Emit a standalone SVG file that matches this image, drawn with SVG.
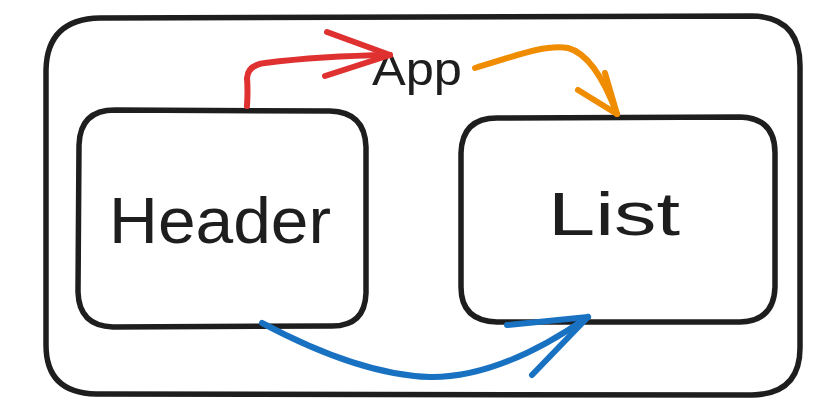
<svg xmlns="http://www.w3.org/2000/svg" width="821" height="408" viewBox="0 0 821 408">
<defs>
<style>
.box{fill:none;stroke:#1e1e1e;stroke-width:5.5;stroke-linecap:round;stroke-linejoin:round}
.arr{fill:none;stroke-width:6;stroke-linecap:round;stroke-linejoin:round}
.lbl{font-family:"Liberation Sans",Arial,sans-serif;fill:#1e1e1e;text-anchor:middle}
</style>
</defs>
<rect width="821" height="408" fill="#ffffff"/>
<g id="app">
<path class="box" d="M100,18 L752,16 Q800,17 800,66 L800,348 Q800,394 752,395 L96,394 Q46,393 46,345 L46,70 Q47,19 100,18 Z"/>
<text class="lbl" x="417" y="85" font-size="46" textLength="90" lengthAdjust="spacingAndGlyphs">App</text>
</g>
<g id="header">
<path class="box" d="M115,110 L330,111 Q365,112 366,147 L366,293 Q365,327 330,326 L113,327 Q79,326 78,292 L79,145 Q80,110 115,110 Z"/>
<text class="lbl" x="220" y="243" font-size="64" textLength="222" lengthAdjust="spacingAndGlyphs">Header</text>
</g>
<g id="list">
<path class="box" d="M497,118 L740,117 Q775,118 775,153 L775,287 Q774,321 740,322 L497,322 Q461,321 461,287 L461,153 Q462,118 497,118 Z"/>
<text class="lbl" x="614" y="235" font-size="62" textLength="132" lengthAdjust="spacingAndGlyphs">List</text>
</g>
<g id="connectors">
<g stroke="#e03131" class="arr">
<path d="M247,106 Q248,90 247,78 Q248,65 265,63 Q320,56 390,55"/>
<path d="M390,55 L327,32 M390,55 L325,76"/>
</g>
<g stroke="#f08c00" class="arr">
<path d="M475,68 C515,56 545,44 568,48 Q595,55 617,114"/>
<path d="M617,114 L605,73 M617,114 L578,90"/>
</g>
<g stroke="#1971c2" class="arr">
<path d="M262,323 Q360,375 430,377 Q500,378 588,317"/>
<path d="M588,317 L507,325 M588,317 L532,375"/>
</g>
</g>
</svg>
